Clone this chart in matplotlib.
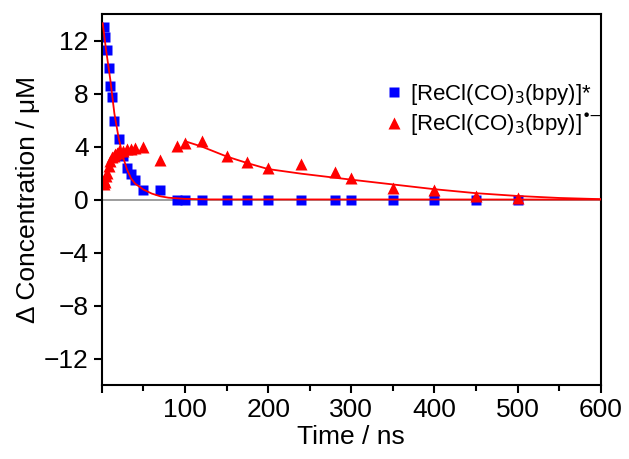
import numpy as np
import matplotlib.pyplot as plt
from matplotlib.ticker import MultipleLocator

plt.rcParams['font.family'] = ['Liberation Sans', 'DejaVu Sans']

# excited state (blue squares)
t_exc = [2, 4, 6, 8, 10, 12, 15, 20, 25, 30, 35, 40, 50, 70, 90, 100, 120,
         150, 175, 200, 240, 280, 300, 350, 400, 450, 500]
c_exc = [13.0, 12.3, 11.3, 9.9, 8.6, 7.7, 5.9, 4.6, 3.3, 2.4, 1.9, 1.5, 0.7,
         0.75, 0, 0, 0, 0, 0, 0, 0, 0, 0, 0, 0, 0, 0]

# reduced species (red triangles)
t_red = [2, 3, 4, 5, 6, 8, 10, 12, 14, 16, 18, 20, 25, 30, 35, 40, 50, 70,
         90, 100, 120, 150, 175, 200, 240, 280, 300, 350, 400, 450, 500]
c_red = [1.2, 1.5, 1.3, 1.8, 2.0, 2.5, 2.9, 3.2, 3.3, 3.4, 3.5, 3.7, 3.7,
         3.8, 3.85, 3.9, 4.0, 3.0, 4.05, 4.25, 4.4, 3.3, 2.85, 2.35, 2.65,
         2.05, 1.6, 0.9, 0.75, 0.25, 0.15]

# fit curves
t_fit1 = [1, 5, 10, 15, 20, 25, 30, 35, 40, 50, 60, 70, 80, 100, 130, 600]
c_fit1 = [13.3, 11.3, 9.1, 6.5, 4.7, 3.3, 2.3, 1.6, 1.2, 0.75, 0.45, 0.25,
          0.14, 0.05, 0.01, 0]
t_fit2 = [100, 120, 150, 175, 200, 240, 280, 300, 350, 400, 450, 500, 550, 600]
c_fit2 = [4.4, 4.0, 3.25, 2.75, 2.3, 1.95, 1.65, 1.5, 1.14, 0.78, 0.48, 0.27,
          0.12, 0.03]

fig = plt.figure(figsize=(6.29, 4.59), dpi=100)
ax = fig.add_axes([0.162, 0.161, 0.793, 0.8085])

ax.axhline(0, color='#8c8c8c', lw=1.2, zorder=1)
ax.plot(t_exc, c_exc, 's', color='#0000ff', ms=6.5, mec='none',
        label='[ReCl(CO)$_3$(bpy)]*', zorder=2)
ax.plot(t_red, c_red, '^', color='#ff0000', ms=8, mec='none',
        label='[ReCl(CO)$_3$(bpy)]$^{\u2022\\!\\!\u2212}$', zorder=2)
ax.plot(t_fit1, c_fit1, '-', color='#ff0000', lw=1.3, zorder=3)
ax.plot(t_fit2, c_fit2, '-', color='#ff0000', lw=1.3, zorder=3)

ax.set_xlim(0, 600)
ax.set_ylim(-14, 14)
ax.set_xticks([0, 100, 200, 300, 400, 500, 600])
ax.set_xticklabels(['', '100', '200', '300', '400', '500', '600'])
ax.xaxis.set_minor_locator(MultipleLocator(50))
ax.set_yticks([-12, -8, -4, 0, 4, 8, 12])
ax.set_yticklabels(['\u221212', '\u22128', '\u22124', '0', '4', '8', '12'])

ax.tick_params(which='major', direction='out', length=6, width=1.5,
               labelsize=19, top=False, right=False)
ax.tick_params(which='minor', direction='out', length=4, width=1.5,
               top=False, right=False)
for s in ax.spines.values():
    s.set_linewidth(1.5)

ax.set_xlabel('Time / ns', fontsize=19, labelpad=2)
ax.set_ylabel('\u0394 Concentration / \u03bcM', fontsize=19, labelpad=3)

ax.legend(loc='center left', bbox_to_anchor=(0.573, 0.741), frameon=False,
          fontsize=16, handlelength=0.6, handletextpad=0.4, labelspacing=0.2,
          borderpad=0, borderaxespad=0)

fig.savefig('out.png', dpi=100)
